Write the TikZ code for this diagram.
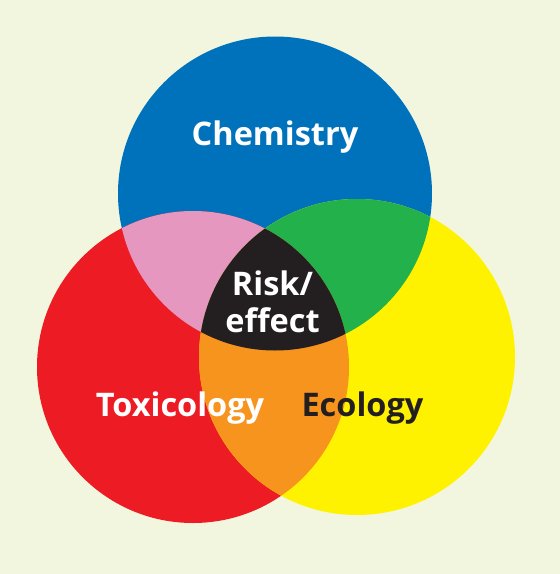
\documentclass[tikz,border=0pt]{standalone}
\usepackage{fontspec}
\setmainfont{Open Sans}
\definecolor{bgc}{RGB}{242,246,222}
\definecolor{chemblue}{RGB}{0,114,188}
\definecolor{toxred}{RGB}{237,28,36}
\definecolor{ecoyellow}{RGB}{255,242,0}
\definecolor{ctpink}{RGB}{229,151,192}
\definecolor{cegreen}{RGB}{34,177,74}
\definecolor{teorange}{RGB}{247,148,30}
\definecolor{riskblack}{RGB}{35,31,32}
\begin{document}
\begin{tikzpicture}[x=1pt,y=-1pt,
  lbl/.style={font=\bfseries\fontsize{32.5}{35}\selectfont, inner sep=0pt, anchor=base}]
\fill[bgc] (0,0) rectangle (560,574);
\useasboundingbox (0,0) rectangle (560,574);
\coordinate (cb) at (275,193.5);
\coordinate (cr) at (193,367);
\coordinate (cy) at (357,357);
\def\rb{157pt}
\def\rr{156pt}
\def\ry{158pt}
% single circles
\fill[chemblue] (cb) circle (\rb);
\fill[toxred] (cr) circle (\rr);
\fill[ecoyellow] (cy) circle (\ry);
% pairwise
\begin{scope}
  \clip (cb) circle (\rb);
  \fill[ctpink] (cr) circle (\rr);
  \fill[cegreen] (cy) circle (\ry);
\end{scope}
\begin{scope}
  \clip (cr) circle (\rr);
  \fill[teorange] (cy) circle (\ry);
\end{scope}
% triple
\begin{scope}
  \clip (cb) circle (\rb);
  \clip (cr) circle (\rr);
  \fill[riskblack] (cy) circle (\ry);
\end{scope}
% labels
\node[lbl, text=white] (chem) at (275,145.5) {Chemistry};
\node[lbl, text=white] (risk) at (272.5,295.5) {Risk/};
\node[lbl, text=white] (effect) at (272.5,332) {effect};
\node[lbl, text=white] (tox) at (180,416.5) {Toxicology};
\node[lbl, text=riskblack] (eco) at (362.5,416.5) {Ecology};
\end{tikzpicture}
\end{document}
